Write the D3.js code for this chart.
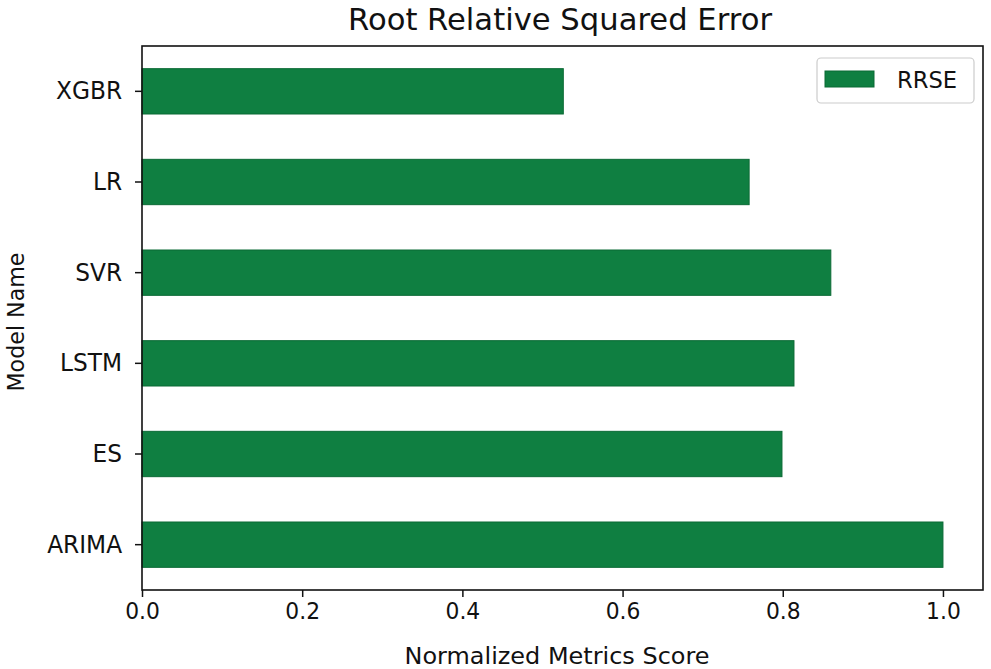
<!DOCTYPE html>
<html><head><meta charset="utf-8">
<script src="https://cdn.jsdelivr.net/npm/d3@7"></script>
<style>body{margin:0;background:#fff}svg{display:block}text{font-family:"DejaVu Sans",sans-serif;fill:#111}</style>
</head><body><svg id="c" width="991" height="669"></svg>
<script>
const categories = ["ARIMA","ES","LSTM","SVR","LR","XGBR"];
const rrse = [1.0, 0.799, 0.814, 0.860, 0.758, 0.526];
const xTicks = [0.0,0.2,0.4,0.6,0.8,1.0];
const seriesName = "RRSE";

const svg = d3.select("#c");
const m = {l:142, t:46, r:983, b:590};
const x = d3.scaleLinear().domain([0,1.05]).range([m.l,m.r]);
const y = d3.scaleBand().domain(categories.slice().reverse()).range([m.t,m.b]).paddingInner(0.5).paddingOuter(0.25);
const color = "#0f7f41";

svg.append("g").selectAll("rect").data(categories).join("rect")
  .attr("x", x(0)).attr("y", d=>y(d))
  .attr("width", (d,i)=>x(rrse[i])-x(0)).attr("height", y.bandwidth())
  .attr("fill", color).attr("stroke","#0b6a35").attr("stroke-width",1);

svg.append("rect").attr("x",m.l).attr("y",m.t).attr("width",m.r-m.l).attr("height",m.b-m.t)
  .attr("fill","none").attr("stroke","#111").attr("stroke-width",1.6);

const xa = svg.append("g").attr("transform",`translate(0,${m.b})`)
  .call(d3.axisBottom(x).tickValues(xTicks).tickFormat(d3.format(".1f")).tickSize(7).tickPadding(6));
const ya = svg.append("g").attr("transform",`translate(${m.l},0)`)
  .call(d3.axisLeft(y).tickSize(7).tickPadding(14));
[xa,ya].forEach(a=>{a.select(".domain").remove();a.selectAll("line").attr("stroke","#111").attr("stroke-width",1.5);
  a.selectAll("text").attr("font-family","DejaVu Sans").attr("fill","#111");});
xa.selectAll("text").attr("font-size",23).attr("transform","scale(0.95,1)");
ya.selectAll("text").attr("font-size",24.5).attr("transform","scale(0.95,1)");

svg.append("text").attr("x",560).attr("y",30).attr("text-anchor","middle").attr("font-size",30)
  .attr("textLength",424).attr("lengthAdjust","spacingAndGlyphs").text("Root Relative Squared Error");
svg.append("text").attr("x",557).attr("y",664).attr("text-anchor","middle").attr("font-size",23.5)
  .attr("textLength",305).attr("lengthAdjust","spacingAndGlyphs").text("Normalized Metrics Score");
svg.append("text").attr("transform","translate(24,322) rotate(-90)").attr("text-anchor","middle").attr("font-size",23)
  .attr("textLength",139).attr("lengthAdjust","spacingAndGlyphs").text("Model Name");

const lg = svg.append("g");
lg.append("rect").attr("x",817).attr("y",58).attr("width",157).attr("height",45).attr("rx",4)
  .attr("fill","#fff").attr("stroke","#ccc").attr("stroke-width",1.2);
lg.append("rect").attr("x",825).attr("y",71).attr("width",49).attr("height",16).attr("fill",color).attr("stroke","#0b6a35");
lg.append("text").attr("x",897).attr("y",88).attr("font-size",23.5)
  .attr("textLength",60).attr("lengthAdjust","spacingAndGlyphs").text(seriesName);
</script></body></html>
